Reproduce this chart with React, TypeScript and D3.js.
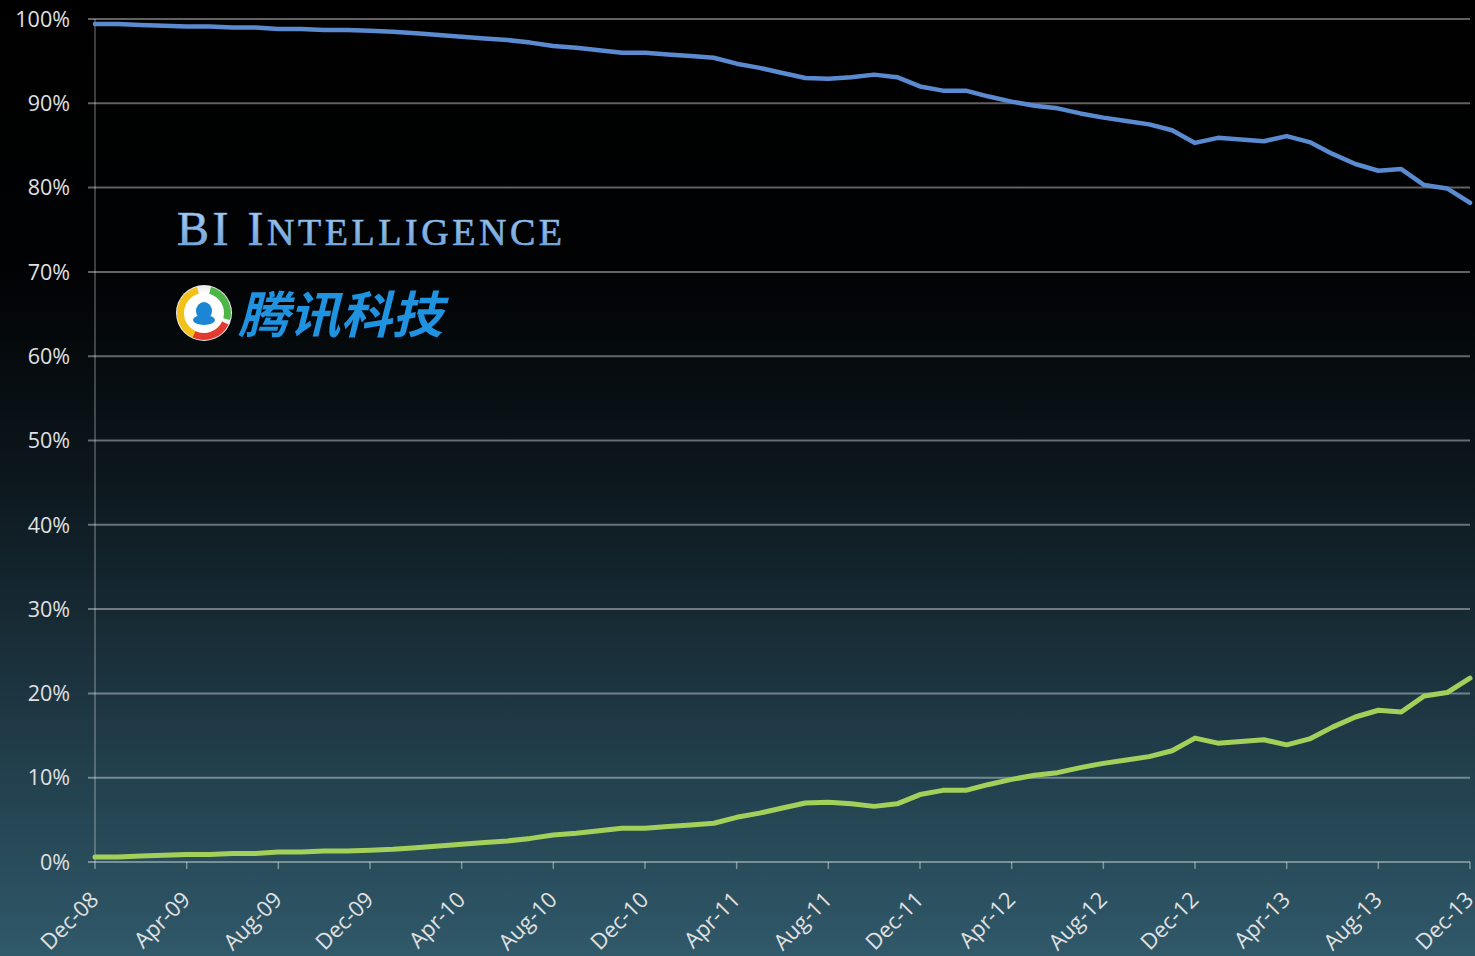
import React from 'react';
import * as d3 from 'd3';

const tickLabels = [
  'Dec-08', 'Apr-09', 'Aug-09', 'Dec-09', 'Apr-10', 'Aug-10', 'Dec-10', 'Apr-11',
  'Aug-11', 'Dec-11', 'Apr-12', 'Aug-12', 'Dec-12', 'Apr-13', 'Aug-13', 'Dec-13',
];

const yTicks = [0, 10, 20, 30, 40, 50, 60, 70, 80, 90, 100];

// monthly values, Dec-08 .. Dec-13 (percent)
const greenSeries = [
  0.6, 0.6, 0.7, 0.8, 0.9, 0.9, 1.0, 1.0, 1.2, 1.2,
  1.3, 1.3, 1.4, 1.5, 1.7, 1.9, 2.1, 2.3, 2.5, 2.8,
  3.2, 3.4, 3.7, 4.0, 4.0, 4.2, 4.4, 4.6, 5.3, 5.8,
  6.4, 7.0, 7.1, 6.9, 6.6, 6.9, 8.0, 8.5, 8.5, 9.2,
  9.8, 10.3, 10.6, 11.2, 11.7, 12.1, 12.5, 13.2, 14.7, 14.1,
  14.3, 14.5, 13.9, 14.6, 16.0, 17.2, 18.0, 17.8, 19.7, 20.1,
  21.8,
];

const blueSeries = [
  99.4, 99.4, 99.3, 99.2, 99.1, 99.1, 99.0, 99.0, 98.8, 98.8,
  98.7, 98.7, 98.6, 98.5, 98.3, 98.1, 97.9, 97.7, 97.5, 97.2,
  96.8, 96.6, 96.3, 96.0, 96.0, 95.8, 95.6, 95.4, 94.7, 94.2,
  93.6, 93.0, 92.9, 93.1, 93.4, 93.1, 92.0, 91.5, 91.5, 90.8,
  90.2, 89.7, 89.4, 88.8, 88.3, 87.9, 87.5, 86.8, 85.3, 85.9,
  85.7, 85.5, 86.1, 85.4, 84.0, 82.8, 82.0, 82.2, 80.3, 79.9,
  78.2,
];

const W = 1475;
const H = 956;

export default function App() {
  const x = d3.scaleLinear().domain([0, 60]).range([95, 1470]);
  const y = d3.scaleLinear().domain([0, 100]).range([862, 19]);
  const line = d3
    .line<number>()
    .x((_, i) => x(i))
    .y((d) => y(d));

  const tickIdx = tickLabels.map((_, i) => i * 4);

  // Tencent icon arcs
  const cx = 204;
  const cy = 313;
  const ring = d3.arc<any>().innerRadius(20).outerRadius(27);
  const arcs = [
    { s: 200, e: 345, c: '#f2c21b' },
    { s: 15, e: 105, c: '#4fb548' },
    { s: 115, e: 205, c: '#e23a2e' },
  ];

  return (
    <svg
      width={W}
      height={H}
      style={{ position: 'fixed', left: 0, top: 0, display: 'block' }}
    >
      <defs>
        <linearGradient id="bg" x1="0" y1="0" x2="0" y2="1">
          <stop offset="0" stopColor="#000000" />
          <stop offset="0.28" stopColor="#010203" />
          <stop offset="0.5" stopColor="#0c171d" />
          <stop offset="0.75" stopColor="#1e3844" />
          <stop offset="1" stopColor="#30596a" />
        </linearGradient>
        <linearGradient id="bi" x1="0" y1="0" x2="0" y2="1">
          <stop offset="0" stopColor="#b4d8f6" />
          <stop offset="1" stopColor="#6399d2" />
        </linearGradient>
        <radialGradient id="ic" cx="0.5" cy="0.5" r="0.5">
          <stop offset="0.7" stopColor="#ffffff" />
          <stop offset="1" stopColor="#e8e8e8" />
        </radialGradient>
      </defs>
      <rect x={0} y={0} width={W} height={H} fill="url(#bg)" />

      {/* gridlines */}
      {yTicks.map((t) => (
        <line
          key={t}
          x1={88}
          x2={1470}
          y1={y(t)}
          y2={y(t)}
          stroke="rgba(255,255,255,0.38)"
          strokeWidth={2}
        />
      ))}
      {/* y axis */}
      <line x1={95} x2={95} y1={y(100)} y2={y(0)} stroke="rgba(255,255,255,0.4)" strokeWidth={1.2} />
      {/* x ticks */}
      {tickIdx.map((i) => (
        <line
          key={i}
          x1={x(i)}
          x2={x(i)}
          y1={y(0)}
          y2={y(0) + 7}
          stroke="rgba(255,255,255,0.4)"
          strokeWidth={1.5}
        />
      ))}

      {/* y labels */}
      {yTicks.map((t) => (
        <text
          key={t}
          x={70}
          y={y(t)}
          dy="0.36em"
          textAnchor="end"
          fontFamily="'Open Sans', sans-serif"
          fontSize={21.5}
          fill="#e0e0e0"
        >
          {t}%
        </text>
      ))}

      {/* x labels */}
      {tickLabels.map((lab, k) => (
        <text
          key={lab}
          transform={`translate(${x(tickIdx[k]) + 5},${y(0) + 39}) rotate(-45)`}
          textAnchor="end"
          fontFamily="'Open Sans', sans-serif"
          fontSize={22}
          fill="#e0e0e0"
        >
          {lab}
        </text>
      ))}

      {/* watermark */}
      <text
        x={177}
        y={245}
        fontFamily="'Liberation Serif', 'DejaVu Serif', serif"
        fill="url(#bi)"
        stroke="#7aaee0"
        strokeWidth={0.7}
        textLength={385}
        lengthAdjust="spacing"
      >
        <tspan fontSize={48}>BI I</tspan>
        <tspan fontSize={38}>NTELLIGENCE</tspan>
      </text>

      {/* tencent icon */}
      <g transform={`translate(${cx},${cy})`}>
        <circle r={28} fill="url(#ic)" />
        {arcs.map((a, i) => (
          <path
            key={i}
            d={ring({ startAngle: (a.s * Math.PI) / 180, endAngle: (a.e * Math.PI) / 180 }) || ''}
            fill={a.c}
          />
        ))}
        <circle r={14} fill="#ffffff" />
        <ellipse cx={0} cy={-2} rx={8} ry={9} fill="#1b86d3" />
        <ellipse cx={0} cy={7} rx={11} ry={5} fill="#1b86d3" />
      </g>
      <g transform="translate(238,333) skewX(-14)">
        <text
          x={0}
          y={0}
          fontFamily="'Noto Sans CJK SC', sans-serif"
          fontWeight={700}
          fontSize={50}
          fill="#1f92e0"
          textLength={205}
          lengthAdjust="spacingAndGlyphs"
        >
          腾讯科技
        </text>
      </g>

      {/* lines */}
      <path
        d={line(blueSeries) || ''}
        fill="none"
        stroke="#5a8ad0"
        strokeWidth={4.5}
        strokeLinejoin="round"
        strokeLinecap="round"
      />
      <path
        d={line(greenSeries) || ''}
        fill="none"
        stroke="#a2d05a"
        strokeWidth={5}
        strokeLinejoin="round"
        strokeLinecap="round"
      />
    </svg>
  );
}
